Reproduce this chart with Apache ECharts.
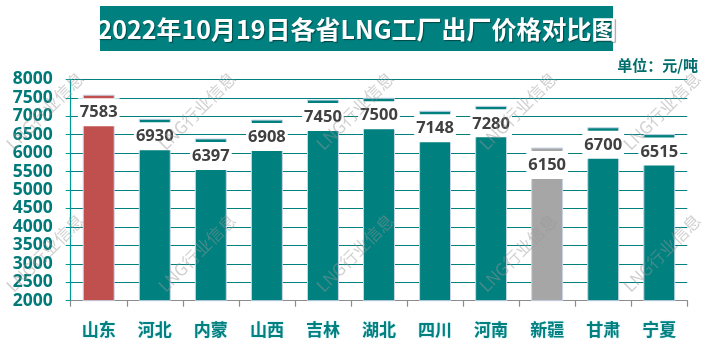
<!DOCTYPE html>
<html>
<head>
<meta charset="utf-8">
<script src="https://cdn.jsdelivr.net/npm/echarts@6/dist/echarts.min.js"></script>
<style>
html,body{margin:0;padding:0;background:#fff;}
#chart{width:710px;height:349px;}
</style>
</head>
<body>
<div id="chart"></div>
<script>
const titleText = '2022年10月19日各省LNG工厂出厂价格对比图';
const unitText = '单位：元/吨';
const categories = ['山东','河北','内蒙','山西','吉林','湖北','四川','河南','新疆','甘肃','宁夏'];
const prices = [7583, 6930, 6397, 6908, 7450, 7500, 7148, 7280, 6150, 6700, 6515];
const yTicks = [2000, 2500, 3000, 3500, 4000, 4500, 5000, 5500, 6000, 6500, 7000, 7500, 8000];
const watermarkText = 'LNG行业信息';

const TEAL = '#00807F';
const barColorFor = function (name) {
  if (name === '山东') return '#C0504D';
  if (name === '新疆') return '#A6A6A6';
  return TEAL;
};

const chart = echarts.init(document.getElementById('chart'), null, {renderer: 'canvas'});

const wmPos = [];
[45, 197, 355, 518, 662].forEach(function (x) {
  [111, 253].forEach(function (y) { wmPos.push([x, y]); });
});

const graphics = [
  {
    type: 'rect', left: 100, top: 6, z: 5,
    shape: {width: 513, height: 45},
    style: {fill: TEAL}
  },
  {
    type: 'text', x: 357, y: 29, z: 6,
    style: {
      text: titleText, fill: '#fff', align: 'center', verticalAlign: 'middle',
      font: 'bold 25px "Noto Sans CJK SC", sans-serif',
      textShadowColor: 'rgba(0,0,0,0.45)', textShadowOffsetX: 1, textShadowOffsetY: 1, textShadowBlur: 1
    }
  },
  {
    type: 'text', x: 698, y: 65, z: 6,
    style: {
      text: unitText, fill: '#006E6C', align: 'right', verticalAlign: 'middle',
      font: 'bold 15px "Noto Sans CJK SC", sans-serif'
    }
  }
];
wmPos.forEach(function (p) {
  graphics.push({
    type: 'text', x: p[0], y: p[1], z: 100, rotation: Math.PI / 4,
    style: {
      text: watermarkText, fill: 'rgba(150,150,150,0.45)', align: 'center', verticalAlign: 'middle',
      font: 'normal 17px "Noto Sans CJK SC", sans-serif'
    }
  });
});

chart.setOption({
  animation: false,
  grid: {left: 70.7, right: 22.7, top: 79.3, bottom: 48.3, containLabel: false},
  graphic: graphics,
  xAxis: {
    type: 'category',
    data: categories,
    boundaryGap: true,
    axisLine: {show: true, lineStyle: {color: '#8C8C8C', width: 1.2}},
    axisTick: {show: true, length: 6, lineStyle: {color: '#8C8C8C', width: 1.2}},
    axisLabel: {
      color: TEAL, fontSize: 17, fontWeight: 'bold', margin: 20,
      fontFamily: '"Noto Sans CJK SC", sans-serif',
      textShadowColor: 'rgba(120,200,220,0.6)', textShadowBlur: 2
    }
  },
  yAxis: {
    type: 'value',
    min: yTicks[0], max: yTicks[yTicks.length - 1], interval: yTicks[1] - yTicks[0],
    axisLine: {show: true, lineStyle: {color: '#009A96', width: 1.2}},
    axisTick: {show: true, length: 5, inside: false, lineStyle: {color: '#009A96'}},
    axisLabel: {
      color: '#007A78', fontSize: 17.5, fontWeight: 'bold', margin: 18,
      fontFamily: '"Open Sans", "Noto Sans", sans-serif',
      formatter: function (v) { return String(v); }
    },
    splitLine: {show: true, lineStyle: {color: TEAL, width: 1.2}}
  },
  series: [{
    type: 'bar',
    barWidth: '57%',
    data: prices.map(function (v, i) {
      return {value: v, itemStyle: {color: barColorFor(categories[i])}};
    }),
    itemStyle: {borderColor: '#C9D5E8', borderWidth: 1},
    label: {
      show: true,
      position: 'insideTop',
      distance: 3.5,
      color: '#404040',
      fontSize: 16.5,
      fontWeight: 'bold',
      fontFamily: '"Open Sans", "Noto Sans", sans-serif',
      backgroundColor: '#fff',
      padding: [6, 2, 5, 2],
      lineHeight: 17
    }
  }]
});
</script>
</body>
</html>
